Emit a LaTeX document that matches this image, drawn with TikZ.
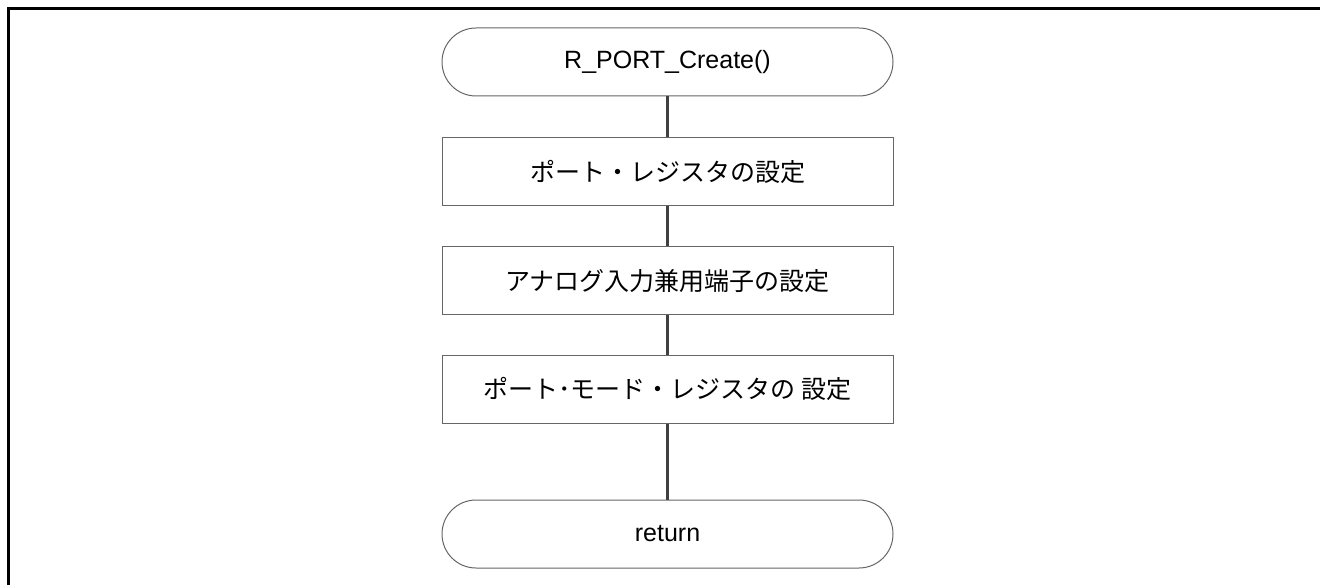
\documentclass[tikz,border=0pt]{standalone}
\usepackage{fontspec}
\setmainfont{Liberation Sans}
\newfontfamily\jp{Noto Sans CJK JP}
\usetikzlibrary{positioning}

\begin{document}
\begin{tikzpicture}[
                x=1pt,y=-1pt,
                every node/.style={rectangle,draw=black!60,line width=1pt,
                    minimum width=451pt,minimum height=68pt,inner sep=0pt,
                    font=\fontsize{25}{30}\selectfont},
                terminal/.style={rounded corners=34pt},
                every edge/.append style={draw=black!75,line width=2.5pt}
            ]
                \useasboundingbox (0,0) rectangle (1320,585);
                \draw[line width=3pt] (1320,8.5) -- (8,8.5) -- (8,585);

                \node[terminal] (start) at (667.5,62) {R\_PORT\_Create()};
                \node (portreg) [below=41pt of start] {\jp ポート・レジスタの設定}
                    edge (start)
                ;
                \node (analog) [below=40pt of portreg] {\jp アナログ入力兼用端子の設定}
                    edge (portreg)
                ;
                \node (portmode) [below=39pt of analog] {\jp ポート･モード・レジスタの 設定}
                    edge (analog)
                ;
                \node[terminal] (return) [below=76pt of portmode] {return}
                    edge (portmode)
                ;
            \end{tikzpicture}
\end{document}
